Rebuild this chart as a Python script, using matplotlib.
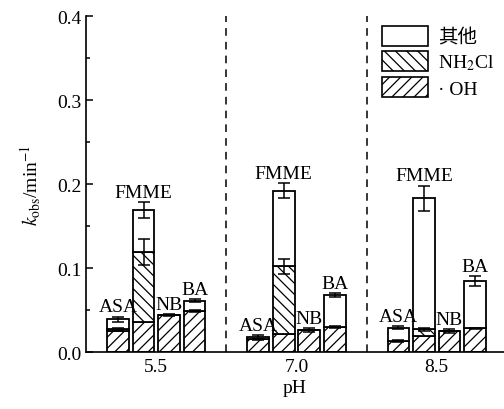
import numpy as np
import matplotlib
matplotlib.use("Agg")
import matplotlib.pyplot as plt
from matplotlib.patches import Patch
from matplotlib.ticker import MultipleLocator

plt.rcParams["font.family"] = ["Liberation Serif", "Noto Sans CJK SC"]
plt.rcParams["mathtext.fontset"] = "stix"
plt.rcParams["hatch.linewidth"] = 0.9

ph_labels = ["5.5", "7.0", "8.5"]
compounds = ["ASA", "FMME", "NB", "BA"]

# contributions per compound (rows) and pH (cols)
oh = np.array([[0.025, 0.015, 0.013],
               [0.036, 0.021, 0.019],
               [0.044, 0.026, 0.025],
               [0.049, 0.030, 0.028]])
nh2cl = np.array([[0.002, 0.000, 0.000],
                  [0.083, 0.081, 0.008],
                  [0.000, 0.000, 0.000],
                  [0.000, 0.000, 0.000]])
other = np.array([[0.012, 0.003, 0.016],
                  [0.050, 0.090, 0.156],
                  [0.000, 0.000, 0.000],
                  [0.012, 0.038, 0.056]])
err_total = np.array([[0.003, 0.002, 0.002],
                      [0.009, 0.009, 0.015],
                      [0.001, 0.002, 0.002],
                      [0.002, 0.002, 0.006]])
err_mid = np.array([[0.002, 0.001, 0.001],
                    [0.015, 0.009, 0.002],
                    [0.000, 0.000, 0.000],
                    [0.001, 0.001, 0.001]])

fig = plt.figure(figsize=(5.04, 4.10), dpi=100)
ax = fig.add_axes([0.171, 0.139, 0.829, 0.8195])

group_x = np.arange(len(ph_labels))
pitch = 0.182
width = 0.154
offsets = (np.arange(len(compounds)) - 1.5) * pitch

for i, name in enumerate(compounds):
    x = group_x + offsets[i]
    ax.bar(x, oh[i], width, color="white", edgecolor="black", hatch="///", linewidth=1.3)
    ax.bar(x, nh2cl[i], width, bottom=oh[i], color="white", edgecolor="black",
           hatch="\\\\\\", linewidth=1.3)
    ax.bar(x, other[i], width, bottom=oh[i] + nh2cl[i], color="white",
           edgecolor="black", linewidth=1.3)
    mid = oh[i] + nh2cl[i]
    total = mid + other[i]
    ax.errorbar(x, total, yerr=err_total[i], fmt="none", ecolor="black",
                elinewidth=1.1, capsize=4, capthick=1.1)
    has_mid = other[i] > 0.002
    ax.errorbar(x[has_mid], mid[has_mid], yerr=err_mid[i][has_mid], fmt="none",
                ecolor="black", elinewidth=1.1, capsize=4, capthick=1.1)
    for j in range(len(ph_labels)):
        ax.annotate(name, (x[j], total[j] + err_total[i][j]), xytext=(0, 1),
                    textcoords="offset points", ha="center", va="bottom", fontsize=14)

for xv in [0.5, 1.5]:
    ax.axvline(xv, color="black", linestyle=(0, (5, 4)), linewidth=1.1)

ax.set_xlim(-0.5, 2.48)
ax.set_ylim(0, 0.4)
ax.set_xticks(group_x)
ax.set_xticklabels(ph_labels)
ax.yaxis.set_major_locator(MultipleLocator(0.1))
ax.yaxis.set_minor_locator(MultipleLocator(0.05))
ax.tick_params(axis="y", which="both", direction="in", labelsize=14, width=1.1)
ax.tick_params(axis="y", which="major", length=5)
ax.tick_params(axis="y", which="minor", length=3)
ax.tick_params(axis="x", length=0, labelsize=14, pad=4)
ax.spines["top"].set_visible(False)
ax.spines["right"].set_visible(False)
ax.spines["left"].set_linewidth(1.2)
ax.spines["bottom"].set_linewidth(1.2)

ax.set_xlabel("pH", fontsize=14, labelpad=3)
ax.set_ylabel(r"$k_{\mathrm{obs}}$/min$^{-1}$", fontsize=14, labelpad=10)

handles = [Patch(facecolor="white", edgecolor="black", linewidth=1.2, label="其他"),
           Patch(facecolor="white", edgecolor="black", linewidth=1.2, hatch="\\\\\\",
                 label="NH$_2$Cl"),
           Patch(facecolor="white", edgecolor="black", linewidth=1.2, hatch="///",
                 label="· OH")]
ax.legend(handles=handles, loc="upper right", bbox_to_anchor=(1.0, 1.0), frameon=False,
          fontsize=14, handlelength=2.4, handleheight=1.2, handletextpad=0.5,
          labelspacing=0.25, borderaxespad=0.1)

fig.savefig("out.png", dpi=100)
